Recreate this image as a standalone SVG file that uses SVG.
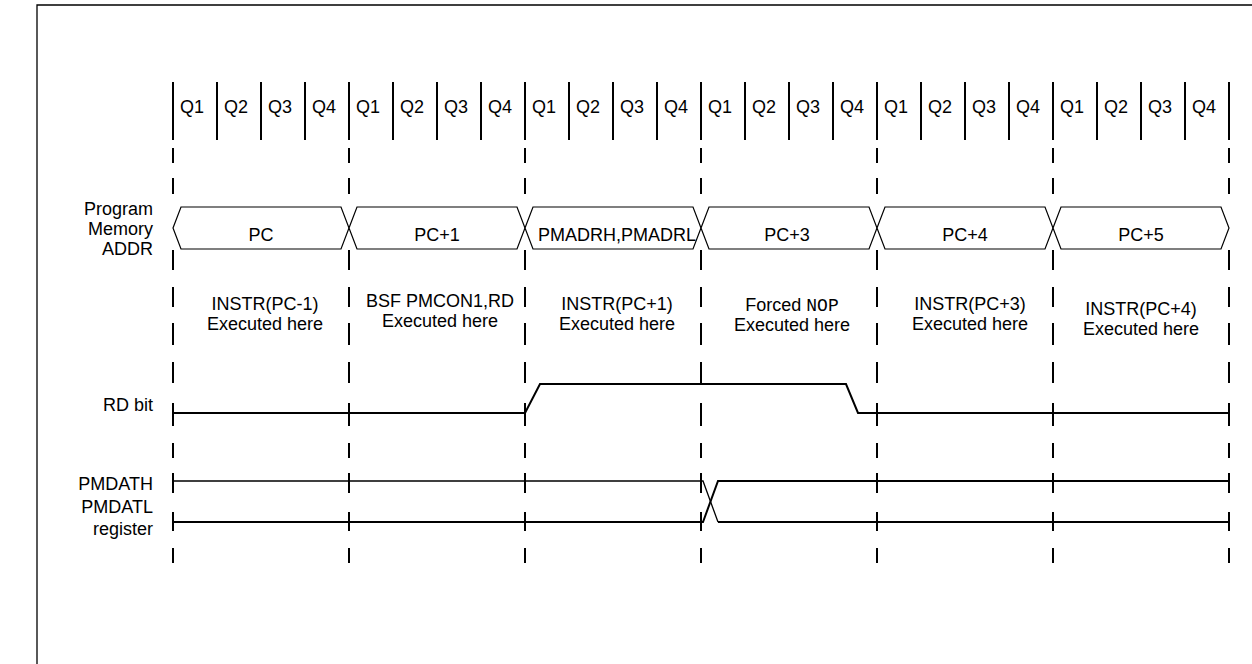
<svg xmlns="http://www.w3.org/2000/svg" xmlns:xlink="http://www.w3.org/1999/xlink" width="1252" height="664" viewBox="0 0 1252 664">
<style>
text{font-family:"Liberation Sans",Arial,sans-serif;font-size:18px;fill:#000}
.mono{font-family:"Liberation Mono","Courier New",monospace;font-size:18px}
.mid{text-anchor:middle}
.end{text-anchor:end}
.thick{stroke:#000;stroke-width:2;fill:none}
.thin{stroke:#000;stroke-width:1.3;fill:none}
.bus{stroke:#000;stroke-width:1.2;fill:#fff}
</style>
<defs>
<path id="tick" class="thick" d="M0,148V163M0,178V194M0,250V270M0,287V307M0,323V345M0,362V383M0,403V426M0,443V458M0,473V493M0,512V531M0,548V563"/>
</defs>
<rect width="1252" height="664" fill="#fff"/>
<g id="frame"><path class="thin" d="M37,664V5H1252"/></g>
<g id="q-row">
<path class="thick" d="M173,82V140M217,82V140M261,82V140M305,82V140M349,82V140M393,82V140M437,82V140M481,82V140M525,82V140M569,82V140M613,82V140M657,82V140M701,82V140M745,82V140M789,82V140M833,82V140M877,82V140M921,82V140M965,82V140M1009,82V140M1053,82V140M1097,82V140M1141,82V140M1185,82V140M1229,82V140"/>
<text x="180" y="113">Q1</text><text x="224" y="113">Q2</text><text x="268" y="113">Q3</text><text x="312" y="113">Q4</text>
<text x="356" y="113">Q1</text><text x="400" y="113">Q2</text><text x="444" y="113">Q3</text><text x="488" y="113">Q4</text>
<text x="532" y="113">Q1</text><text x="576" y="113">Q2</text><text x="620" y="113">Q3</text><text x="664" y="113">Q4</text>
<text x="708" y="113">Q1</text><text x="752" y="113">Q2</text><text x="796" y="113">Q3</text><text x="840" y="113">Q4</text>
<text x="884" y="113">Q1</text><text x="928" y="113">Q2</text><text x="972" y="113">Q3</text><text x="1016" y="113">Q4</text>
<text x="1060" y="113">Q1</text><text x="1104" y="113">Q2</text><text x="1148" y="113">Q3</text><text x="1192" y="113">Q4</text>
</g>
<g id="cycle-ticks">
<use xlink:href="#tick" x="173"/><use xlink:href="#tick" x="349"/><use xlink:href="#tick" x="525"/><use xlink:href="#tick" x="701"/><use xlink:href="#tick" x="877"/><use xlink:href="#tick" x="1053"/><use xlink:href="#tick" x="1229"/>
</g>
<g id="signal-labels">
<text class="end" x="153" y="215">Program</text>
<text class="end" x="153" y="235">Memory</text>
<text class="end" x="153" y="255">ADDR</text>
<text class="end" x="153" y="411">RD bit</text>
<text class="end" x="153" y="490">PMDATH</text>
<text class="end" x="153" y="513">PMDATL</text>
<text class="end" x="153" y="535">register</text>
</g>
<g id="addr-pc"><polygon class="bus" points="173,228 181,207 341,207 349,228 341,249 181,249"/><text class="mid" x="261" y="241">PC</text></g>
<g id="addr-pc1"><polygon class="bus" points="349,228 357,207 517,207 525,228 517,249 357,249"/><text class="mid" x="437" y="241">PC+1</text></g>
<g id="addr-pmadr"><polygon class="bus" points="525,228 533,207 693,207 701,228 693,249 533,249"/><text class="mid" x="617" y="241">PMADRH,PMADRL</text></g>
<g id="addr-pc3"><polygon class="bus" points="701,228 709,207 869,207 877,228 869,249 709,249"/><text class="mid" x="787" y="241">PC+3</text></g>
<g id="addr-pc4"><polygon class="bus" points="877,228 885,207 1045,207 1053,228 1045,249 885,249"/><text class="mid" x="965" y="241">PC+4</text></g>
<g id="addr-pc5"><polygon class="bus" points="1053,228 1061,207 1221,207 1229,228 1221,249 1061,249"/><text class="mid" x="1141" y="241">PC+5</text></g>
<g id="exec-1"><text class="mid" x="265" y="310">INSTR(PC-1)</text><text class="mid" x="265" y="330">Executed here</text></g>
<g id="exec-2"><text class="mid" x="440" y="307">BSF PMCON1,RD</text><text class="mid" x="440" y="327">Executed here</text></g>
<g id="exec-3"><text class="mid" x="617" y="310">INSTR(PC+1)</text><text class="mid" x="617" y="330">Executed here</text></g>
<g id="exec-4"><text class="mid" x="792" y="311">Forced <tspan class="mono" font-size="19">NOP</tspan></text><text class="mid" x="792" y="331">Executed here</text></g>
<g id="exec-5"><text class="mid" x="970" y="310">INSTR(PC+3)</text><text class="mid" x="970" y="330">Executed here</text></g>
<g id="exec-6"><text class="mid" x="1141" y="315">INSTR(PC+4)</text><text class="mid" x="1141" y="335">Executed here</text></g>
<g id="waveforms">
<path class="thick" d="M173,413H525L540,384H846L858,413H1229"/>
<path class="thin" d="M173,481H703L718,522"/>
<path class="thick" d="M173,522H703L718,481H1229"/>
<path class="thick" d="M718,522H1229"/>
</g>
</svg>
